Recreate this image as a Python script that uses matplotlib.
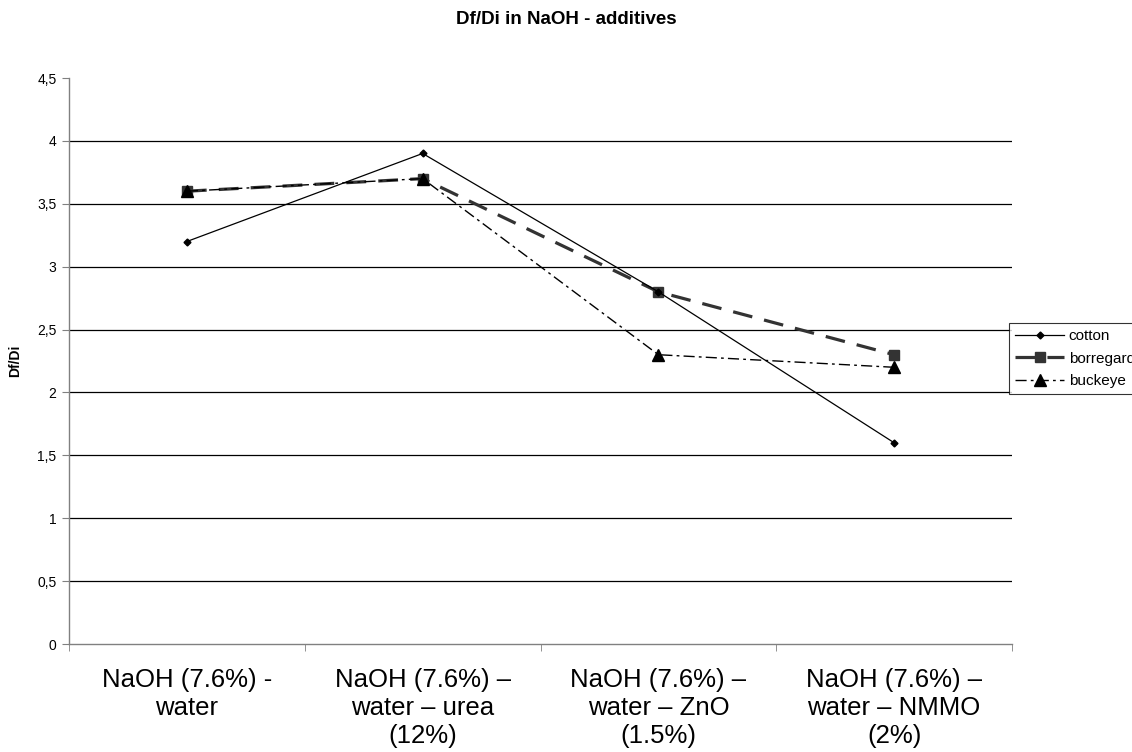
import matplotlib
matplotlib.use("Agg")
import matplotlib.pyplot as plt
from matplotlib.ticker import FuncFormatter, FixedLocator

plt.rcParams['font.family'] = ['Liberation Sans', 'DejaVu Sans']

# data
categories = ["NaOH (7.6%) -\nwater",
              "NaOH (7.6%) –\nwater – urea\n(12%)",
              "NaOH (7.6%) –\nwater – ZnO\n(1.5%)",
              "NaOH (7.6%) –\nwater – NMMO\n(2%)"]
cotton = [3.2, 3.9, 2.8, 1.6]
borregard = [3.6, 3.7, 2.8, 2.3]
buckeye = [3.6, 3.7, 2.3, 2.2]
y_ticks = [0, 0.5, 1, 1.5, 2, 2.5, 3, 3.5, 4, 4.5]

fig = plt.figure(figsize=(11.32, 7.52), dpi=100)
ax = fig.add_axes([69 / 1132, 1 - 644 / 752, (1012 - 69) / 1132, (644 - 78) / 752])

x = list(range(len(categories)))

# horizontal gridlines (no line at the top)
for yv in y_ticks[1:-1]:
    ax.axhline(yv, color='black', lw=0.9, zorder=1)

ax.plot(x, cotton, color='black', lw=0.9, marker='D', markersize=3.5,
        label='cotton', zorder=4)
ax.plot(x, borregard, color='#333333', lw=2.3, marker='s', markersize=7.5,
        dashes=(6.2, 3.8), label='borregard', zorder=3)
ax.plot(x, buckeye, color='black', lw=1.0, marker='^', markersize=8,
        dashes=(8, 3, 2, 3), label='buckeye', zorder=3)

ax.set_xlim(-0.5, len(categories) - 0.5)
ax.set_ylim(0, 4.5)

# category labels at centres, tick marks at the boundaries
ax.set_xticks(x)
ax.set_xticklabels(categories, fontsize=18.5, linespacing=1.22)
ax.tick_params(axis='x', which='major', length=0, pad=17)
ax.xaxis.set_minor_locator(FixedLocator([i - 0.5 for i in range(len(categories) + 1)]))
ax.tick_params(axis='x', which='minor', length=5, direction='out', color='#808080')

ax.set_yticks(y_ticks)
ax.yaxis.set_major_formatter(FuncFormatter(lambda v, p: ('%g' % v).replace('.', ',')))
ax.tick_params(axis='y', labelsize=10, length=5, direction='out', color='#808080', pad=4)

for side in ['top', 'right']:
    ax.spines[side].set_visible(False)
for side in ['left', 'bottom']:
    ax.spines[side].set_color('#808080')
    ax.spines[side].set_linewidth(1.0)

ax.set_ylabel("Df/Di", fontsize=10, fontweight='bold', labelpad=11)

fig.text(0.5, 1 - 20 / 752, "Df/Di in NaOH - additives", ha='center', va='center',
         fontsize=13.5, fontweight='bold')

leg = fig.legend(loc='upper left', bbox_to_anchor=(1009 / 1132, 1 - 323 / 752),
                 fontsize=11, frameon=True, fancybox=False, edgecolor='black',
                 handlelength=3.2, labelspacing=0.55, borderpad=0.4,
                 handletextpad=0.3, borderaxespad=0)
leg.get_frame().set_linewidth(0.8)

fig.savefig("out.png", dpi=100)
